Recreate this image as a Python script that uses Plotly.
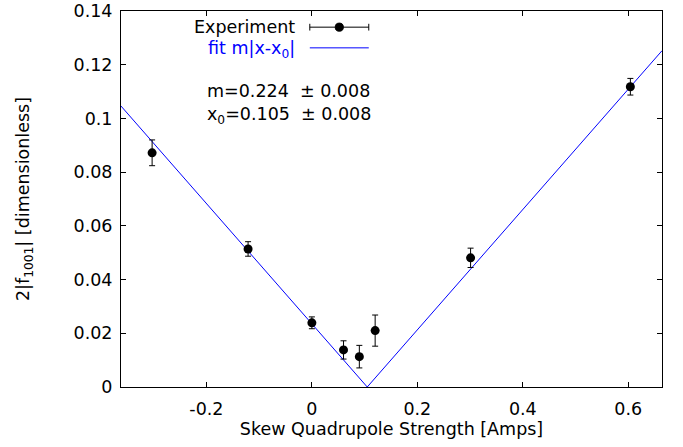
import numpy as np
import plotly.graph_objects as go

# Measured coupling amplitude vs skew quadrupole current
current = [-0.303, -0.121, 0.0, 0.060, 0.090, 0.120, 0.301, 0.604]
amplitude = [0.0872, 0.0514, 0.0239, 0.0138, 0.0113, 0.0210, 0.0481, 0.1118]
amplitude_err = [0.0048, 0.0027, 0.0022, 0.0034, 0.0042, 0.0058, 0.0036, 0.0031]

# Fit parameters of m|x - x0|
m_fit = 0.224
x0_fit = 0.105
m_err = 0.008
x0_err = 0.008

x_range = [-0.362, 0.664]
y_range = [0, 0.14]

x_ticks = [-0.2, 0, 0.2, 0.4, 0.6]
x_ticktext = ["-0.2", "0", "0.2", "0.4", "0.6"]
y_ticks = [0, 0.02, 0.04, 0.06, 0.08, 0.1, 0.12, 0.14]
y_ticktext = ["0", "0.02", "0.04", "0.06", "0.08", "0.1", "0.12", "0.14"]

fit_x = np.array([x_range[0], x0_fit, x_range[1]])
fit_y = m_fit * np.abs(fit_x - x0_fit)

FONT = "DejaVu Sans, Liberation Sans, Arial, sans-serif"
FS = 17.5

fig = go.Figure()

fig.add_trace(go.Scatter(
    x=fit_x, y=fit_y, mode="lines",
    line=dict(color="#0000ff", width=1),
    showlegend=False, hoverinfo="skip",
))

fig.add_trace(go.Scatter(
    x=current, y=amplitude, mode="markers",
    marker=dict(color="black", size=9, symbol="circle"),
    error_y=dict(type="data", array=amplitude_err, visible=True,
                 color="black", thickness=1, width=3),
    showlegend=False,
))

axis_common = dict(
    showgrid=False, zeroline=False, automargin=False,
    showline=True, linecolor="black", linewidth=1, mirror="ticks",
    ticks="inside", ticklen=5, tickwidth=1, tickcolor="black",
    tickfont=dict(family=FONT, size=FS, color="black"),
)

fig.update_xaxes(
    range=x_range, tickvals=x_ticks, ticktext=x_ticktext,
    ticklabelstandoff=6,
    title=dict(text="Skew Quadrupole Strength [Amps]",
               font=dict(family=FONT, size=FS, color="black"), standoff=0),
    **axis_common,
)
fig.update_yaxes(
    range=y_range, tickvals=y_ticks, ticktext=y_ticktext,
    ticklabelstandoff=4,
    title=dict(text="2|f<sub>1001</sub>| [dimensionless]",
               font=dict(family=FONT, size=FS, color="black"), standoff=39),
    **axis_common,
)

# Legend drawn by hand: label on the left, sample on the right
leg_text_x = 0.325
row1_y = 0.957
row2_y = 0.902
samp_x0, samp_x1 = 0.349, 0.458
samp_mid = (samp_x0 + samp_x1) / 2
cap = 0.009

annotations = [
    dict(text="Experiment", x=leg_text_x, y=row1_y, xref="paper", yref="paper",
         xanchor="right", yanchor="middle", showarrow=False,
         font=dict(family=FONT, size=FS, color="black")),
    dict(text="fit m|x-x<sub>0</sub>|", x=leg_text_x, y=row2_y - 0.004, xref="paper", yref="paper",
         xanchor="right", yanchor="middle", showarrow=False,
         font=dict(family=FONT, size=FS, color="#0000ff")),
    dict(text=f"m={m_fit:.3f}  \u00b1 {m_err:.3f}", x=0.156, y=0.787,
         xref="paper", yref="paper", xanchor="left", yanchor="middle",
         showarrow=False, font=dict(family=FONT, size=FS, color="black")),
    dict(text=f"x<sub>0</sub>={x0_fit:.3f}  \u00b1 {x0_err:.3f}", x=0.156, y=0.722,
         xref="paper", yref="paper", xanchor="left", yanchor="middle",
         showarrow=False, font=dict(family=FONT, size=FS, color="black")),
]

shapes = [
    dict(type="line", xref="paper", yref="paper", x0=samp_x0, x1=samp_x1,
         y0=row1_y, y1=row1_y, line=dict(color="black", width=1)),
    dict(type="line", xref="paper", yref="paper", x0=samp_x0, x1=samp_x0,
         y0=row1_y - cap, y1=row1_y + cap, line=dict(color="black", width=1)),
    dict(type="line", xref="paper", yref="paper", x0=samp_x1, x1=samp_x1,
         y0=row1_y - cap, y1=row1_y + cap, line=dict(color="black", width=1)),
    dict(type="circle", xref="paper", yref="paper",
         x0=samp_mid - 0.0075, x1=samp_mid + 0.0075,
         y0=row1_y - 0.0108, y1=row1_y + 0.0108,
         fillcolor="black", line=dict(color="black", width=1)),
    dict(type="line", xref="paper", yref="paper", x0=samp_x0, x1=samp_x1,
         y0=row2_y, y1=row2_y, line=dict(color="#0000ff", width=1)),
]

fig.update_layout(
    width=683, height=447,
    margin=dict(l=121, r=21, t=11, b=60),
    plot_bgcolor="white", paper_bgcolor="white",
    font=dict(family=FONT, size=FS, color="black"),
    annotations=annotations, shapes=shapes,
    showlegend=False,
)

fig.write_html("out.html")
